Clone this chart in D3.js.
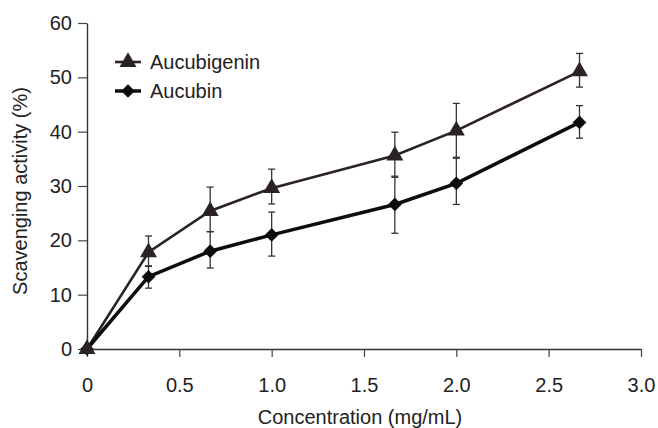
<!DOCTYPE html>
<html>
<head>
<meta charset="utf-8">
<script src="https://cdn.jsdelivr.net/npm/d3@7"></script>
<style>
  html, body { margin: 0; padding: 0; background: #ffffff; }
  svg { display: block; }
  text { font-family: "Liberation Sans", Arial, Helvetica, sans-serif; fill: #222; }
</style>
</head>
<body>
<svg id="chart" width="658" height="428"></svg>
<script>
// ---- data ----
const concentration = [0, 0.333, 0.667, 1.0, 1.667, 2.0, 2.667];
const aucubigenin      = [0, 17.8, 25.4, 29.6, 35.6, 40.2, 51.1];
const aucubigeninUpper = [0, 20.8, 29.8, 33.1, 39.9, 45.2, 54.4];
const aucubigeninLower = [0, 15.2, 21.6, 26.7, 31.6, 35.3, 48.2];
const aucubin      = [0, 13.3, 18.0, 21.0, 26.6, 30.5, 41.7];
const aucubinUpper = [0, 15.3, 21.6, 25.2, 31.8, 35.1, 44.8];
const aucubinLower = [0, 11.2, 14.9, 17.1, 21.3, 26.6, 38.8];
const xTicks = [0, 0.5, 1.0, 1.5, 2.0, 2.5, 3.0];
const xTickLabels = ["0", "0.5", "1.0", "1.5", "2.0", "2.5", "3.0"];
const yTicks = [0, 10, 20, 30, 40, 50, 60];
const seriesNames = ["Aucubigenin", "Aucubin"];

// ---- layout ----
const svg = d3.select("#chart");
const x = d3.scaleLinear().domain([0, 3]).range([87, 641]);
const y = d3.scaleLinear().domain([0, 60]).range([349, 23]);
const FS = 20;

// axes
const xAxis = d3.axisBottom(x).tickValues(xTicks)
  .tickFormat((d, i) => xTickLabels[i]).tickSize(8).tickPadding(21).tickSizeOuter(0);
const gx = svg.append("g").attr("transform", `translate(0,${y(0)})`).call(xAxis);
const yAxis = d3.axisLeft(y).tickValues(yTicks).tickSize(9).tickPadding(6).tickSizeOuter(0);
const gy = svg.append("g").attr("transform", `translate(${x(0)},0)`).call(yAxis);
[gx, gy].forEach(g => {
  g.select(".domain").attr("stroke", "#333").attr("stroke-width", 1.4);
  g.selectAll(".tick line").attr("stroke", "#444").attr("stroke-width", 1.2);
  g.selectAll(".tick text").attr("font-size", FS)
    .attr("font-family", "'Liberation Sans', Arial, sans-serif").attr("fill", "#222");
});

// axis titles
svg.append("text").attr("x", 360).attr("y", 424).attr("text-anchor", "middle")
  .attr("font-size", FS).text("Concentration (mg/mL)");
svg.append("text").attr("transform", `translate(27,${191}) rotate(-90)`)
  .attr("text-anchor", "middle").attr("font-size", FS).text("Scavenging activity (%)");

// series
const series = [
  { name: seriesNames[0], vals: aucubigenin, up: aucubigeninUpper, lo: aucubigeninLower,
    color: "#2b2228", width: 2.6, symbol: d3.symbolTriangle, size: 125 },
  { name: seriesNames[1], vals: aucubin, up: aucubinUpper, lo: aucubinLower,
    color: "#0d0d0d", width: 3.5, symbol: d3.symbolDiamond2, size: 120 }
];

const line = d3.line().x(d => x(d[0])).y(d => y(d[1]));

// error bars
series.forEach(s => {
  const g = svg.append("g");
  concentration.forEach((c, i) => {
    if (s.up[i] === s.lo[i]) return;
    const cx = x(c);
    g.append("line").attr("x1", cx).attr("x2", cx).attr("y1", y(s.up[i])).attr("y2", y(s.lo[i]))
      .attr("stroke", "#333").attr("stroke-width", 1.3);
    [s.up[i], s.lo[i]].forEach(v => {
      g.append("line").attr("x1", cx - 3.5).attr("x2", cx + 3.5).attr("y1", y(v)).attr("y2", y(v))
        .attr("stroke", "#333").attr("stroke-width", 1.3);
    });
  });
});

// lines
series.forEach(s => {
  svg.append("path").datum(concentration.map((c, i) => [c, s.vals[i]]))
    .attr("d", line).attr("fill", "none").attr("stroke", s.color).attr("stroke-width", s.width);
});

// markers (diamonds first, triangles on top)
[series[1], series[0]].forEach(s => {
  svg.append("g").selectAll("path").data(concentration.map((c, i) => [c, s.vals[i]]))
    .join("path")
    .attr("transform", d => `translate(${x(d[0])},${y(d[1])})`)
    .attr("d", d3.symbol().type(s.symbol).size(s.size))
    .attr("fill", s.color);
});

// legend
const legendRows = [{ s: series[0], cy: 62 }, { s: series[1], cy: 91 }];
legendRows.forEach(r => {
  svg.append("line").attr("x1", 115).attr("x2", 141).attr("y1", r.cy).attr("y2", r.cy)
    .attr("stroke", r.s.color).attr("stroke-width", r.s.width);
  svg.append("path").attr("transform", `translate(128,${r.cy})`)
    .attr("d", d3.symbol().type(r.s.symbol).size(r.s.size)).attr("fill", r.s.color);
  svg.append("text").attr("x", 150).attr("y", r.cy + 7).attr("font-size", FS).text(r.s.name);
});
</script>
</body>
</html>
